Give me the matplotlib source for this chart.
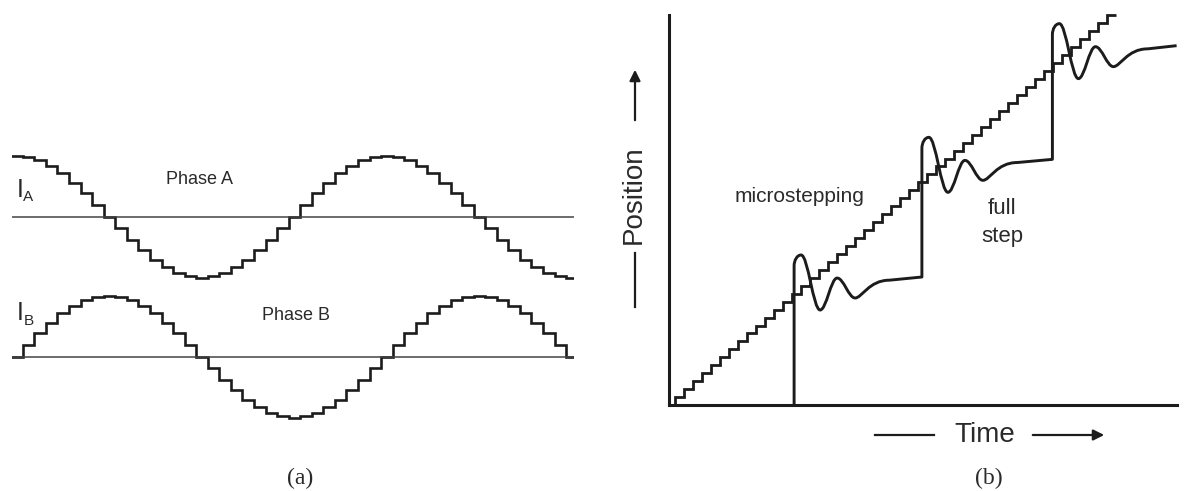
import matplotlib
matplotlib.use("Agg")
import matplotlib.pyplot as plt
from matplotlib.path import Path
from matplotlib.patches import PathPatch

W, H = 1192, 491

# microstep current table, one quarter wave (cos), 8 microsteps per quarter
quarter_table = [1.000, 0.981, 0.924, 0.831, 0.707, 0.556, 0.383, 0.195, 0.000]
steps_per_cycle = 32
micro_index = list(range(0, 50))           # microstep numbers shown in (a)

# (b) motion diagram, time and position in microstep units
n_micro = 49
micro_start = 0.67
jump_times = [13.9, 28.1, 42.6]            # full step commands
full_levels = [16.1, 30.9, 45.2]           # settled rotor position
ring_dt = [0.78, 2.89, 4.78, 6.78]         # ringing extrema after a jump
ring_dy = [2.77, -4.15, -0.13, -2.64]
settle_dt, settle_dy = 10.6, -0.4
t_end = 56.4

INK = "#1c1c1c"
TXT = "#2a2a2a"


def px_axes(x0, y0, x1, y1):
    # box given in pixels, y measured from the top
    a = fig.add_axes([x0 / W, 1 - y1 / H, (x1 - x0) / W, (y1 - y0) / H])
    a.patch.set_visible(False)
    return a


def cos_table(k):
    k = k % steps_per_cycle
    if k <= 8:
        return quarter_table[k]
    if k <= 16:
        return -quarter_table[16 - k]
    if k <= 24:
        return -quarter_table[k - 16]
    return quarter_table[32 - k]


fig = plt.figure(figsize=(W / 100, H / 100), dpi=100)

# ---- (a) phase currents ----
px_per_k = 11.56
k0_px = 17
edges = [k - 0.5 for k in micro_index] + [micro_index[-1] + 0.5]
for zero_px, shift in [(216.5, 0), (356.5, 8)]:
    ax = px_axes(12, zero_px - 73.2, 574, zero_px + 73.2)
    vals = [cos_table(k - shift) for k in micro_index]
    ax.axhline(0, color="#444444", lw=1.1)
    ax.stairs(vals, edges, baseline=None, color=INK, lw=1.9)
    ax.set_xlim((12 - k0_px) / px_per_k, (574 - k0_px) / px_per_k)
    ax.set_ylim(-1.2, 1.2)
    ax.axis("off")

# ---- (b) position vs time ----
axb = px_axes(669, 15, 1177, 405)
axb.set_xlim(0, (1177 - 669) / 9)
axb.set_ylim(0, 390 / 7.95)
for s in ["top", "right"]:
    axb.spines[s].set_visible(False)
for s in ["left", "bottom"]:
    axb.spines[s].set_linewidth(2.2)
    axb.spines[s].set_color(INK)
axb.set_xticks([])
axb.set_yticks([])

st_edges = [0] + [micro_start + i for i in range(n_micro + 1)]
st_vals = list(range(n_micro + 1))
axb.stairs(st_vals, st_edges, baseline=None, color=INK, lw=2.0, clip_on=False)

verts, codes = [], []
prev = 0
for i, (tj, L) in enumerate(zip(jump_times, full_levels)):
    nxt = jump_times[i + 1] if i + 1 < len(jump_times) else t_end
    if i == 0:
        verts.append((tj, prev)); codes.append(Path.MOVETO)
    else:
        verts.append((tj, prev)); codes.append(Path.LINETO)
    # vertical rise, rounded top
    px_, py_ = tj + ring_dt[0], L + ring_dy[0]
    b = 1.4
    verts.append((tj, py_ - b)); codes.append(Path.LINETO)
    verts += [(tj, py_ - b + 0.552 * b), (px_ - 0.552 * ring_dt[0], py_), (px_, py_)]
    codes += [Path.CURVE4] * 3
    x1, y1 = px_, py_
    for dt, dy in zip(ring_dt[1:], ring_dy[1:]):
        x2, y2 = tj + dt, L + dy
        dx = x2 - x1
        verts += [(x1 + 0.364 * dx, y1), (x2 - 0.364 * dx, y2), (x2, y2)]
        codes += [Path.CURVE4] * 3
        x1, y1 = x2, y2
    x2, y2 = tj + settle_dt, L + settle_dy
    dx = x2 - x1
    verts += [(x1 + 0.2 * dx, y1), (x1 + 0.4 * dx, y2), (x2, y2)]
    codes += [Path.CURVE4] * 3
    verts.append((nxt, L)); codes.append(Path.LINETO)
    prev = L
axb.add_patch(PathPatch(Path(verts, codes), fill=False, ec=INK, lw=2.1,
                        capstyle="butt", joinstyle="round", clip_on=False))

# ---- labels, in pixel coordinates ----
ov = px_axes(0, 0, W, H)
ov.set_zorder(5)
ov.set_xlim(0, W)
ov.set_ylim(H, 0)
ov.axis("off")
sans = "Liberation Sans"

ov.text(199, 180, "Phase A", fontsize=13, family=sans, color=TXT, ha="center", va="center")
ov.text(296, 315, "Phase B", fontsize=13, family=sans, color=TXT, ha="center", va="center")
ov.text(17, 197, "I", fontsize=18, family=sans, color=TXT, ha="left", va="baseline")
ov.text(23, 201, "A", fontsize=11, family=sans, color=TXT, ha="left", va="baseline")
ov.text(17, 320, "I", fontsize=18, family=sans, color=TXT, ha="left", va="baseline")
ov.text(24, 325, "B", fontsize=11, family=sans, color=TXT, ha="left", va="baseline")

ov.text(800, 197, "microstepping", fontsize=15, family=sans, color=TXT, ha="center", va="center")
ov.text(1002, 209, "full", fontsize=16, family=sans, color=TXT, ha="center", va="center")
ov.text(1002, 236, "step", fontsize=16, family=sans, color=TXT, ha="center", va="center")

ov.text(634, 195, "Position", fontsize=20, family=sans, color=TXT, rotation=90,
        ha="center", va="center")
ov.plot([635, 635], [253, 307], color=INK, lw=1.6)
ov.annotate("", xy=(635, 67), xytext=(635, 123),
            arrowprops=dict(arrowstyle="-|>", color=INK, lw=1.6, mutation_scale=16))

ov.text(985, 435, "Time", fontsize=20, family=sans, color=TXT, ha="center", va="center")
ov.plot([875, 934], [435, 435], color=INK, lw=1.6)
ov.annotate("", xy=(1107, 435), xytext=(1030, 435),
            arrowprops=dict(arrowstyle="-|>", color=INK, lw=1.6, mutation_scale=16))

ov.text(300, 478, "(a)", fontsize=17, family="Liberation Serif", color=TXT, ha="center", va="center")
ov.text(989, 478, "(b)", fontsize=17, family="Liberation Serif", color=TXT, ha="center", va="center")

fig.savefig("out.png", dpi=100)
